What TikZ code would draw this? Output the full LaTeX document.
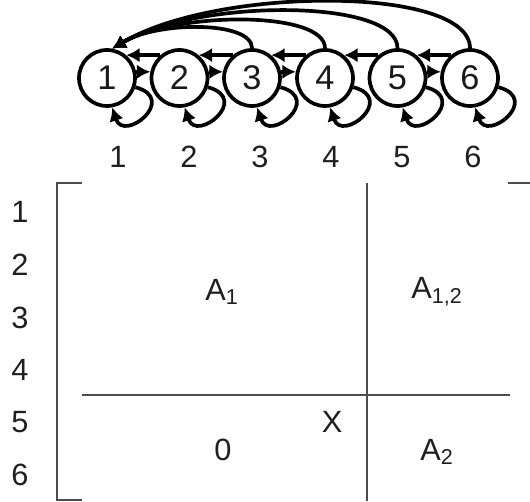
\documentclass[tikz,border=0pt]{standalone}
\usepackage{fontspec}
\setmainfont{Liberation Sans}
\usetikzlibrary{positioning,arrows.meta}

\begin{document}
\begin{tikzpicture}[
  every node/.style={font=\fontsize{17.5}{20}\selectfont,text=black!88},
  state/.style={draw,circle,line width=2.1pt,minimum size=1.12cm,
    inner sep=0pt,font=\fontsize{19.5}{22}\selectfont,text=black!90},
  arr/.style={line width=2.1pt,-{Latex[length=2.7mm,width=2.9mm]}},
  gridline/.style={draw=black!70,line width=0.9pt}
]
  \useasboundingbox (0,0) rectangle (10.6,10.02);

  % 状態
  \foreach \i/\x in {1/2.14,2/3.59,3/5.04,4/6.50,5/7.95,6/9.40}{
    \node[state] (n\i) at (\x,8.46) {\i};
  }

  % 自己ループ
  \foreach \i in {1,...,6}{
    \draw[arr] (n\i.-18)
      .. controls +(-15:0.9) and +(-72:0.75) .. (n\i.-80);
  }

  % 右向きの遷移
  \foreach \i/\j in {1/2,2/3,3/4,5/6}{
    \draw[arr] (n\i.12) -- (n\j.168);
  }

  % 左向きの遷移
  \foreach \i/\j in {2/1,3/2,4/3,5/4,6/5}{
    \draw[arr] (n\i.130) -- (n\j.50);
  }

  % 状態1へ戻る弧
  \foreach \k/\h/\c in {3/0.55/0.9,4/0.75/1.3,5/1.0/1.7,6/1.25/2.1}{
    \draw[arr] (n\k.north)
      .. controls +(0,\h) and +(\c,\h) .. (n1.80);
  }

  % 列番号
  \foreach \i/\x in {1/2.36,2/3.78,3/5.20,4/6.62,5/8.04,6/9.46}{
    \node (c\i) at (\x,6.88) {\i};
  }

  % 行番号
  \foreach \i/\y in {1/5.78,2/4.73,3/3.67,4/2.62,5/1.57,6/0.52}{
    \node (r\i) at (0.40,\y) {\i};
  }

  % 行列の枠と区切り
  \draw[gridline] (1.64,6.36) -- (1.14,6.36) -- (1.14,0.02) -- (1.64,0.02);
  \draw[gridline] (10.16,6.36) -- (10.6,6.36);
  \draw[gridline] (7.34,6.36) -- (7.34,0);
  \draw[gridline] (1.64,2.12) -- (10.2,2.12);

  % ブロック
  \node (a1) at (4.44,4.18) {A\textsubscript{1}};
  \node (a12) at (8.74,4.18) {A\textsubscript{1,2}};
  \node (zero) at (4.46,1.02) {0};
  \node (xx) at (6.64,1.58) {X};
  \node (a2) at (8.74,0.98) {A\textsubscript{2}};
\end{tikzpicture}
\end{document}
